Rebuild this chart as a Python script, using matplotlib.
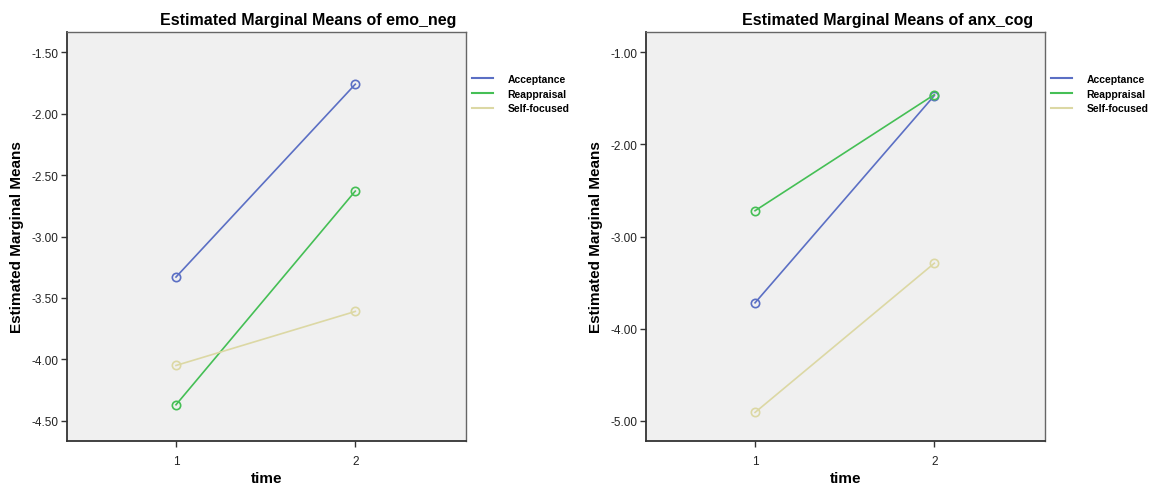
import matplotlib.pyplot as plt
from matplotlib.lines import Line2D

plt.rcParams['font.family'] = ['Liberation Sans', 'DejaVu Sans']

# estimated marginal means
time_points = [1, 2]
groups = ["Acceptance", "Reappraisal", "Self-focused"]
emo_neg_acceptance = [-3.33, -1.76]
emo_neg_reappraisal = [-4.37, -2.63]
emo_neg_selffocused = [-4.05, -3.61]
anx_cog_acceptance = [-3.72, -1.47]
anx_cog_reappraisal = [-2.72, -1.46]
anx_cog_selffocused = [-4.91, -3.29]
emo_neg_ticks = [-1.5, -2.0, -2.5, -3.0, -3.5, -4.0, -4.5]
anx_cog_ticks = [-1.0, -2.0, -3.0, -4.0, -5.0]

colors = ['#5b6fc4', '#45bf55', '#dcd8a4']

fig = plt.figure(figsize=(11.53, 4.89), dpi=100)


def draw_panel(left, series, ticks, ylim, title, title_x, legend_x):
    ax = fig.add_axes([left, 0.0961, 0.346, 0.8364])
    ax.set_facecolor('#f0f0f0')
    for vals, c in zip(series, colors):
        ax.plot(time_points, vals, color=c, lw=1.2, marker='o', ms=6,
                mfc='none', mec=c, mew=1.2)
    ax.set_xlim(0.392, 2.617)
    ax.set_ylim(*ylim)
    ax.set_xticks(time_points)
    ax.set_yticks(ticks)
    ax.set_yticklabels(['%.2f' % t for t in ticks])
    ax.tick_params(axis='both', length=4, width=1, color='#333333',
                   labelsize=8.5, labelcolor='#222222', pad=2)
    ax.tick_params(axis='x', pad=6)
    for s in ax.spines.values():
        s.set_color('#666666')
        s.set_linewidth(1.0)
    ax.spines['left'].set_color('#333333')
    ax.spines['bottom'].set_color('#333333')
    ax.spines['left'].set_linewidth(1.3)
    ax.spines['bottom'].set_linewidth(1.3)
    ax.set_xlabel('time', fontsize=11, fontweight='bold', va='center')
    ax.xaxis.set_label_coords(0.5, -0.0905)
    ax.set_ylabel('Estimated Marginal Means', fontsize=11, fontweight='bold', va='center')
    ax.yaxis.set_label_coords(-0.125, 0.5)
    fig.text(title_x, 1 - 20.7 / 489, title, ha='center', va='center',
             fontsize=11.5, fontweight='bold')
    handles = [Line2D([], [], color=c, lw=1.5) for c in colors]
    ax.legend(handles, groups, loc='upper left',
              bbox_to_anchor=(legend_x, 1 - 75 / 489),
              bbox_transform=fig.transFigure, frameon=False,
              prop={'weight': 'bold', 'size': 7.5}, handlelength=2.0,
              handletextpad=1.4, labelspacing=0.45, borderpad=0, borderaxespad=0)
    return ax


draw_panel(0.0581, [emo_neg_acceptance, emo_neg_reappraisal, emo_neg_selffocused],
           emo_neg_ticks, (-4.665, -1.335), 'Estimated Marginal Means of emo_neg',
           308 / 1153, 472 / 1153)
draw_panel(0.5603, [anx_cog_acceptance, anx_cog_reappraisal, anx_cog_selffocused],
           anx_cog_ticks, (-5.22, -0.78), 'Estimated Marginal Means of anx_cog',
           888 / 1153, 1051 / 1153)

fig.savefig('out.png', dpi=100)
